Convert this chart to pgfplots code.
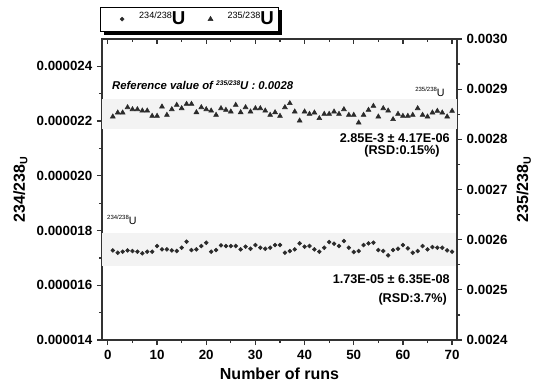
\documentclass[border=0pt]{standalone}
\usepackage{pgfplots}
\pgfplotsset{compat=1.18}
\usepackage{pgfplotstable}
\usepackage{fontspec}
\setmainfont{Liberation Sans}
\usetikzlibrary{shadows}
\definecolor{axc}{HTML}{333333}
\definecolor{bandc}{HTML}{F3F3F3}
\definecolor{mk}{HTML}{2A2A2A}

\pgfplotstableread{
x y
1 1.7275e-5
2 1.7190e-5
3 1.7227e-5
4 1.7275e-5
5 1.7251e-5
6 1.7227e-5
7 1.7166e-5
8 1.7227e-5
9 1.7227e-5
10 1.7434e-5
11 1.7312e-5
12 1.7312e-5
13 1.7275e-5
14 1.7251e-5
15 1.7373e-5
16 1.7592e-5
17 1.7287e-5
18 1.7312e-5
19 1.7434e-5
20 1.7555e-5
21 1.7227e-5
22 1.7287e-5
23 1.7458e-5
24 1.7434e-5
25 1.7434e-5
26 1.7434e-5
27 1.7312e-5
28 1.7409e-5
29 1.7336e-5
30 1.7470e-5
31 1.7373e-5
32 1.7336e-5
33 1.7373e-5
34 1.7470e-5
35 1.7470e-5
36 1.7190e-5
37 1.7251e-5
38 1.7312e-5
39 1.7531e-5
40 1.7409e-5
41 1.7434e-5
42 1.7312e-5
43 1.7227e-5
44 1.7373e-5
45 1.7580e-5
46 1.7519e-5
47 1.7434e-5
48 1.7616e-5
49 1.7373e-5
50 1.7214e-5
51 1.7251e-5
52 1.7470e-5
53 1.7531e-5
54 1.7555e-5
55 1.7287e-5
56 1.7251e-5
57 1.7093e-5
58 1.7287e-5
59 1.7336e-5
60 1.7470e-5
61 1.7348e-5
62 1.7190e-5
63 1.7251e-5
64 1.7434e-5
65 1.7312e-5
66 1.7397e-5
67 1.7373e-5
68 1.7373e-5
69 1.7275e-5
70 1.7227e-5
}\tabA

\pgfplotstableread{
x y
1 0.0028452
2 0.0028532
3 0.0028532
4 0.0028638
5 0.0028598
6 0.0028598
7 0.0028571
8 0.0028571
9 0.0028465
10 0.0028465
11 0.0028651
12 0.0028485
13 0.0028598
14 0.0028684
15 0.0028618
16 0.0028704
17 0.0028704
18 0.0028538
19 0.0028638
20 0.0028598
21 0.0028571
22 0.0028485
23 0.0028618
24 0.0028585
25 0.0028552
26 0.0028684
27 0.0028538
28 0.0028638
29 0.0028552
30 0.0028618
31 0.0028618
32 0.0028571
33 0.0028485
34 0.0028538
35 0.0028465
36 0.0028638
37 0.0028718
38 0.0028552
39 0.0028372
40 0.0028552
41 0.0028505
42 0.0028532
43 0.0028419
44 0.0028505
45 0.0028505
46 0.0028552
47 0.0028505
48 0.0028598
49 0.0028485
50 0.0028485
51 0.0028332
52 0.0028485
53 0.0028585
54 0.0028664
55 0.0028452
56 0.0028618
57 0.0028571
58 0.0028399
59 0.0028505
60 0.0028465
61 0.0028465
62 0.0028485
63 0.0028618
64 0.0028485
65 0.0028452
66 0.0028532
67 0.0028565
68 0.0028532
69 0.0028452
70 0.0028565
}\tabB

\pgfplotsset{
  base/.style={
    scale only axis, width=266.25pt, height=225.75pt,
    at={(0,0)}, anchor=south west,
    xmin=-1.2, xmax=71,
    axis line style={axc, line width=1.1pt},
    every tick/.style={axc, line width=0.9pt},
    major tick length=3.75pt, minor tick length=2.3pt,
    tick label style={font=\fontsize{10}{12}\selectfont\bfseries},
    /pgf/number format/assume math mode=true,
    label style={font=\fontsize{12}{14}\selectfont\bfseries},
  },
  dotst/.style={only marks, mark=*, mark size=1.45pt, mark options={fill=mk, draw=mk}},
  trist/.style={only marks, mark=triangle*, mark size=2.1pt, mark options={fill=mk, draw=mk}},
}

\begin{document}
\begin{tikzpicture}
\useasboundingbox (-76.5pt,-35.25pt) rectangle (326.25pt,255pt);

% left axis: 234/238U
\begin{axis}[base,
  ymin=0.000014, ymax=0.000025,
  ytick={0.000014,0.000016,0.000018,0.000020,0.000022,0.000024},
  minor y tick num=1, ytick pos=left,
  xtick={0,10,...,70}, minor x tick num=1, xtick pos=bottom,
  tick align=outside, scaled y ticks=false,
  yticklabel style={/pgf/number format/fixed, /pgf/number format/precision=6, /pgf/number format/fixed zerofill},
  xlabel={Number of runs},
  ylabel={234/238\raisebox{-0.3ex}{\fontsize{8}{8}\selectfont U}},
]
\addplot[draw=none, fill=bandc, forget plot] coordinates {(-1.2,0.0000167) (71,0.0000167) (71,0.0000179) (-1.2,0.0000179)} -- cycle;
\addplot[dotst] table[x=x,y=y] {\tabA};
\node[anchor=east, inner sep=0pt, font=\fontsize{9.5}{11}\selectfont\bfseries] at (rel axis cs:0.980,0.203) {1.73E-05 ± 6.35E-08};
\node[anchor=east, inner sep=0pt, font=\fontsize{9.5}{11}\selectfont\bfseries] at (rel axis cs:0.972,0.136) {(RSD:3.7\%)};
\node[anchor=west, inner sep=0pt] at (rel axis cs:0.014,0.399) {\raisebox{0.7ex}{\fontsize{4.5}{5}\selectfont 234/238}{\fontsize{8}{8}\selectfont U}};
\end{axis}

% right axis: 235/238U
\begin{axis}[base,
  ymin=0.0024, ymax=0.0030,
  axis y line*=right, axis x line=none,
  ytick={0.0024,0.0025,0.0026,0.0027,0.0028,0.0029,0.0030},
  minor y tick num=1,
  tick align=outside, scaled y ticks=false,
  yticklabel style={/pgf/number format/fixed, /pgf/number format/precision=4, /pgf/number format/fixed zerofill},
  ylabel={235/238\raisebox{-0.3ex}{\fontsize{8}{8}\selectfont U}},
  legend style={at={(0,1)}, anchor=south west, xshift=-1.5pt, yshift=5.5pt,
    draw=black, line width=0.6pt, fill=white,
    drop shadow={shadow xshift=2.5pt, shadow yshift=-2.5pt, fill=black, opacity=1},
    /tikz/every even column/.append style={column sep=2pt},
    inner xsep=1.5pt, inner ysep=1.5pt},
  legend columns=2,
  legend image code/.code={\node[draw=none, fill=none, inner sep=0pt, minimum width=0.9cm, minimum height=0.1cm] at (0.23cm,0cm) {}; \draw[#1, only marks, line width=0.4pt] plot coordinates {(0.3cm,0cm)};},
]
\addlegendimage{dotst}
\addlegendentry{\raisebox{0.9ex}{\fontsize{6.8}{7}\selectfont 234/238}{\fontsize{14}{14}\selectfont\bfseries U}}
\addplot[draw=none, fill=bandc, forget plot] coordinates {(-1.2,0.00282) (71,0.00282) (71,0.00288) (-1.2,0.00288)} -- cycle;
\addplot[trist] table[x=x,y=y] {\tabB};
\addlegendentry{\raisebox{0.9ex}{\fontsize{6.8}{7}\selectfont 235/238}{\fontsize{14}{14}\selectfont\bfseries U}}
\node[anchor=west, inner sep=0pt, font=\fontsize{8.5}{10}\selectfont\bfseries\itshape] at (rel axis cs:0.028,0.847) {Reference value of \raisebox{0.8ex}{\fontsize{5}{5}\selectfont 235/238}U : 0.0028};
\node[anchor=east, inner sep=0pt] at (rel axis cs:0.966,0.824) {\raisebox{0.7ex}{\fontsize{4.5}{5}\selectfont 235/238}{\fontsize{8}{8}\selectfont U}};
\node[anchor=east, inner sep=0pt, font=\fontsize{9.5}{11}\selectfont\bfseries] at (rel axis cs:0.980,0.671) {2.85E-3 ± 4.17E-06};
\node[anchor=east, inner sep=0pt, font=\fontsize{9.5}{11}\selectfont\bfseries] at (rel axis cs:0.952,0.628) {(RSD:0.15\%)};
\end{axis}

% top ticks (inside)
\begin{axis}[base,
  ymin=0, ymax=1,
  axis y line=none, axis x line*=top,
  xtick={0,10,...,70}, minor x tick num=1,
  tick align=inside, xticklabels={},
]
\end{axis}
\end{tikzpicture}
\end{document}
